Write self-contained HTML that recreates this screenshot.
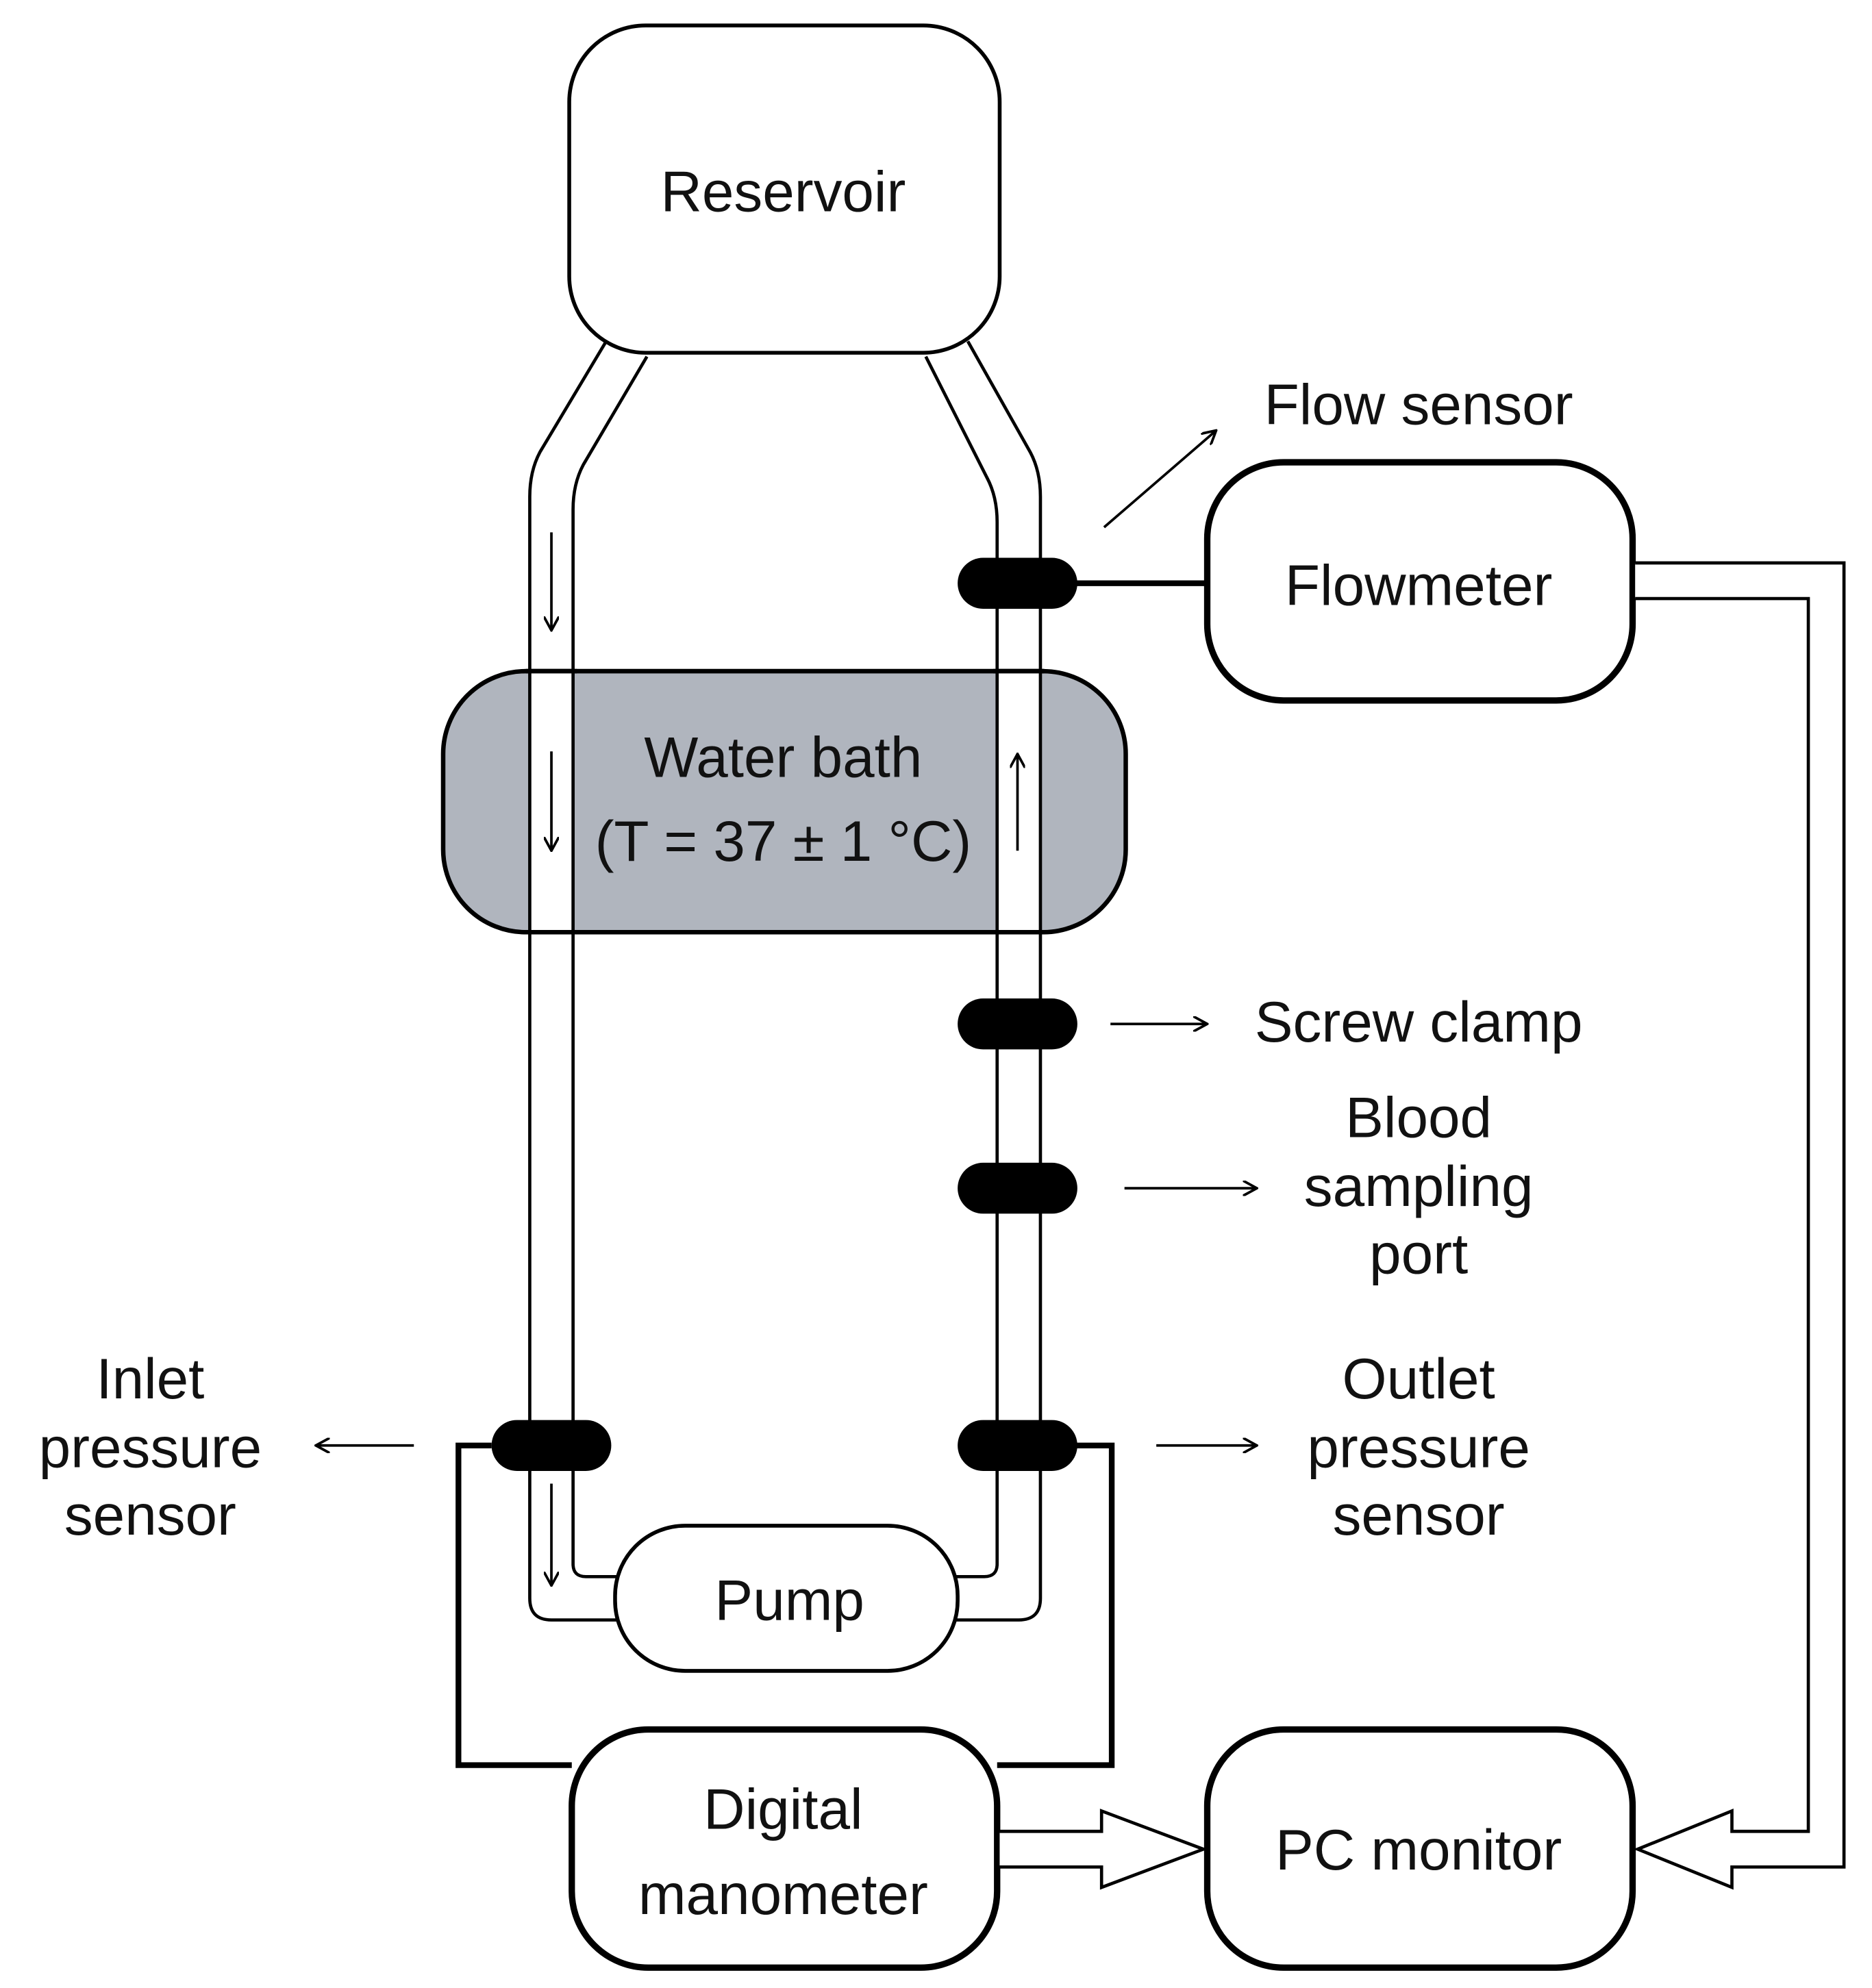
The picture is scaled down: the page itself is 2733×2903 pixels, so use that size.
<!DOCTYPE html>
<html><head><meta charset="utf-8"><style>
html,body{margin:0;padding:0;background:#fff;}
svg{display:block;}
text{font-family:"Liberation Sans",sans-serif;font-size:45px;fill:#111;text-anchor:middle;}
</style></head><body>
<svg width="2733" height="2903" viewBox="0 0 1470 1561" preserveAspectRatio="none" xmlns="http://www.w3.org/2000/svg">
<defs>
<marker id="a" markerWidth="12" markerHeight="12" refX="11" refY="6" orient="auto" markerUnits="userSpaceOnUse">
<path d="M0,0 L11,6 L0,12" fill="none" stroke="#000" stroke-width="2"/>
</marker>
</defs>
<rect x="348" y="527" width="536" height="205" rx="65" fill="#b0b5be" stroke="#000" stroke-width="3.5"/>
<rect x="417" y="527" width="32" height="205" fill="#fff"/>
<rect x="784" y="527" width="32" height="205" fill="#fff"/>
<g fill="none" stroke="#000" stroke-width="2.5">
<path d="M476,268 L424,355 Q416,370 416,390 L416,1255 Q416,1272 433,1272 L486,1272"/>
<path d="M508,280 L458,365 Q450,380 450,400 L450,1228 Q450,1238 460,1238 L486,1238"/>
<path d="M760,268 L809,355 Q817,370 817,390 L817,1255 Q817,1272 800,1272 L750,1272"/>
<path d="M727,280 L775,375 Q783,390 783,410 L783,1228 Q783,1238 773,1238 L750,1238"/>
</g>
<path d="M413,527 L453,527 M780,527 L820,527 M413,732 L453,732 M780,732 L820,732" stroke="#000" stroke-width="3.5"/>
<rect x="447" y="20" width="338" height="257" rx="60" fill="#fff" stroke="#000" stroke-width="3"/>
<rect x="483" y="1198" width="269" height="114" rx="55" fill="#fff" stroke="#000" stroke-width="3"/>
<g fill="#000">
<rect x="752" y="438" width="94" height="40" rx="20"/>
<rect x="752" y="784" width="94" height="40" rx="20"/>
<rect x="752" y="913" width="94" height="40" rx="20"/>
<rect x="752" y="1115" width="94" height="40" rx="20"/>
<rect x="386" y="1115" width="94" height="40" rx="20"/>
</g>
<g fill="none" stroke="#000" stroke-width="4.5">
<line x1="845" y1="458" x2="948" y2="458"/>
<path d="M845,1135 L873,1135 L873,1386 L783,1386"/>
<path d="M386,1135 L360,1135 L360,1386 L449,1386"/>
</g>
<rect x="948" y="363" width="334" height="187" rx="60" fill="#fff" stroke="#000" stroke-width="5"/>
<rect x="449" y="1358" width="334" height="187" rx="60" fill="#fff" stroke="#000" stroke-width="5"/>
<rect x="948" y="1358" width="334" height="187" rx="60" fill="#fff" stroke="#000" stroke-width="5"/>
<path d="M1284,442 L1448,442 L1448,1466 L1360,1466 L1360,1482 L1286,1452 L1360,1422 L1360,1438 L1420,1438 L1420,470 L1284,470" fill="#fff" stroke="#000" stroke-width="2.5"/>
<path d="M785,1438 L865,1438 L865,1422 L945,1452 L865,1482 L865,1466 L785,1466" fill="#fff" stroke="#000" stroke-width="2.5"/>
<g stroke="#000" stroke-width="2" marker-end="url(#a)">
<line x1="433" y1="418" x2="433" y2="495"/>
<line x1="433" y1="590" x2="433" y2="668"/>
<line x1="433" y1="1165" x2="433" y2="1245"/>
<line x1="799" y1="668" x2="799" y2="592"/>
<line x1="867" y1="414" x2="955" y2="338"/>
<line x1="872" y1="804" x2="948" y2="804"/>
<line x1="883" y1="933" x2="987" y2="933"/>
<line x1="908" y1="1135" x2="987" y2="1135"/>
<line x1="325" y1="1135" x2="248" y2="1135"/>
</g>
<text x="615" y="166">Reservoir</text>
<text x="615" y="610">Water bath</text>
<text x="615" y="676">(T = 37 ± 1 °C)</text>
<text x="1114" y="475">Flowmeter</text>
<text x="1114" y="333">Flow sensor</text>
<text x="1114" y="818">Screw clamp</text>
<text x="1114" y="893">Blood</text>
<text x="1114" y="947">sampling</text>
<text x="1114" y="1000">port</text>
<text x="1114" y="1098">Outlet</text>
<text x="1114" y="1152">pressure</text>
<text x="1114" y="1205">sensor</text>
<text x="118" y="1098">Inlet</text>
<text x="118" y="1152">pressure</text>
<text x="118" y="1205">sensor</text>
<text x="620" y="1272">Pump</text>
<text x="615" y="1436">Digital</text>
<text x="615" y="1503">manometer</text>
<text x="1114" y="1468">PC monitor</text>
</svg>
</body></html>
